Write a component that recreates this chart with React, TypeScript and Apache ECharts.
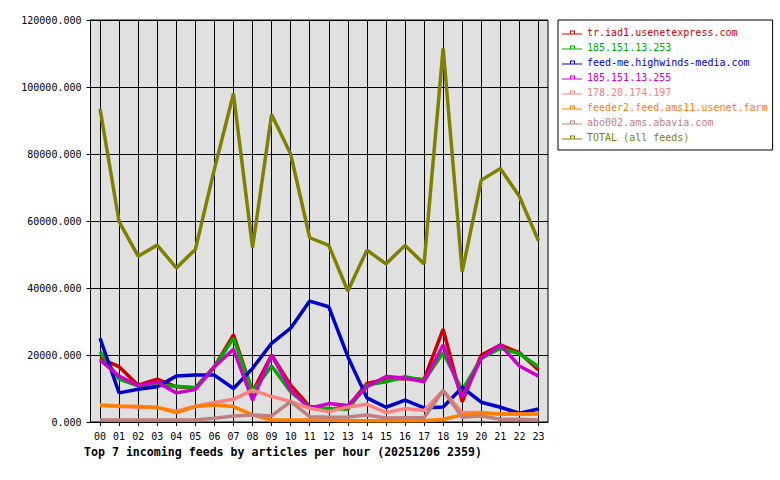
import React, { useEffect, useRef } from "react";
import * as echarts from "echarts";

const hours = [
  "00", "01", "02", "03", "04", "05", "06", "07", "08", "09", "10", "11",
  "12", "13", "14", "15", "16", "17", "18", "19", "20", "21", "22", "23",
];

const feedNames = [
  "tr.iad1.usenetexpress.com",
  "185.151.13.253",
  "feed-me.highwinds-media.com",
  "185.151.13.255",
  "178.20.174.197",
  "feeder2.feed.ams11.usenet.farm",
  "abo002.ams.abavia.com",
  "TOTAL (all feeds)",
];

const feedColors = [
  "#cc0000",
  "#00aa00",
  "#0000cc",
  "#cc00cc",
  "#ff8080",
  "#ff8000",
  "#c08080",
  "#808000",
];

const usenetexpress = [19000, 16500, 11000, 12800, 10500, 10200, 16500, 26000, 9000, 20000, 11000, 4600, 3800, 4500, 11500, 12800, 13000, 12700, 27700, 6000, 20000, 23000, 20700, 15500];
const ip253 = [21000, 12800, 10800, 11000, 10700, 10200, 16500, 25000, 9000, 16700, 9000, 4400, 4000, 3800, 11000, 12000, 13500, 12400, 20700, 9500, 19000, 22000, 20400, 16500];
const highwinds = [25000, 8700, 9800, 10500, 13700, 14000, 14000, 10000, 16000, 23500, 28000, 36100, 34400, 19500, 7200, 4400, 6500, 4200, 4500, 10300, 5900, 4400, 2600, 3900];
const ip255 = [18500, 13700, 10900, 11900, 8700, 9700, 16500, 21700, 6500, 20000, 9500, 4100, 5500, 4900, 10500, 13600, 13100, 12000, 23000, 7500, 19000, 23000, 16700, 13700];
const ip197 = [4900, 4600, 4400, 4300, 3200, 4700, 5800, 6800, 9500, 7600, 6100, 4100, 3100, 4500, 5300, 2800, 4000, 3400, 9400, 2800, 2800, 2400, 2400, 2400];
const ams11 = [5100, 4800, 4600, 4400, 2800, 4600, 5100, 4600, 2100, 600, 600, 600, 500, 400, 400, 400, 400, 400, 800, 2100, 2600, 2400, 2400, 2400];
const abavia = [600, 600, 600, 600, 600, 600, 1100, 1800, 2100, 1800, 6100, 1600, 1400, 1500, 2100, 1200, 1300, 1300, 9400, 1400, 1800, 800, 800, 600];
const totalAll = [93500, 59800, 49500, 52800, 46000, 51500, 75500, 98000, 52100, 91800, 80000, 55000, 52700, 39100, 51300, 47200, 52700, 47200, 111500, 44900, 72200, 75700, 67300, 54100];

const feedValues = [usenetexpress, ip253, highwinds, ip255, ip197, ams11, abavia, totalAll];

const yTicks = [0, 20000, 40000, 60000, 80000, 100000, 120000];

const titleText = "Top 7 incoming feeds by articles per hour (20251206 2359)";

const MONO = '"DejaVu Sans Mono", "Liberation Mono", monospace';

// legend glyph: a thin line with a small hollow square sitting on it
const legendIcon = "path://M0,3H20V4H0Z M8,0H13V4H8Z M9,1V3H12V1Z";

export default function App() {
  const ref = useRef<HTMLDivElement>(null);

  useEffect(() => {
    if (!ref.current) return;
    const chart = echarts.init(ref.current, null, { renderer: "svg" });
    chart.setOption({
      animation: false,
      backgroundColor: "#ffffff",
      textStyle: { fontFamily: MONO },
      title: {
        text: titleText,
        left: 79,
        top: 441,
        textStyle: {
          fontFamily: MONO,
          fontSize: 11.6,
          fontWeight: "bold",
          color: "#000000",
        },
      },
      legend: {
        orient: "vertical",
        left: 558,
        top: 20,
        padding: [5, 5, 5, 4],
        borderColor: "#000000",
        borderWidth: 1,
        backgroundColor: "#ffffff",
        itemWidth: 20,
        itemHeight: 4,
        itemGap: 0,
        icon: legendIcon,
        textStyle: { fontFamily: MONO, fontSize: 10, lineHeight: 15 },
        data: feedNames.map((name, i) => ({
          name,
          textStyle: { color: feedColors[i] },
        })),
      },
      grid: {
        left: 90.5,
        right: 232,
        top: 20,
        bottom: 58,
        show: true,
        backgroundColor: "#e0e0e0",
        borderColor: "#000000",
        borderWidth: 1,
      },
      xAxis: {
        type: "category",
        data: hours,
        boundaryGap: true,
        axisLine: { lineStyle: { color: "#000000", width: 1 } },
        axisTick: { show: true, alignWithLabel: true, length: 4, lineStyle: { color: "#000000" } },
        axisLabel: { color: "#000000", fontFamily: MONO, fontSize: 10, margin: 9, interval: 0 },
        splitLine: { show: true, alignWithLabel: true, lineStyle: { color: "#000000", width: 1 } },
      },
      yAxis: {
        type: "value",
        min: yTicks[0],
        max: yTicks[yTicks.length - 1],
        interval: yTicks[1] - yTicks[0],
        axisLine: { show: true, lineStyle: { color: "#000000", width: 1 } },
        axisTick: { show: true, length: 4, lineStyle: { color: "#000000" } },
        axisLabel: {
          color: "#000000",
          fontFamily: MONO,
          fontSize: 10,
          margin: 9,
          formatter: (v: number) => v.toFixed(3),
        },
        splitLine: { show: true, lineStyle: { color: "#000000", width: 1 } },
      },
      series: feedNames.map((name, i) => ({
        name,
        type: "line",
        data: feedValues[i],
        showSymbol: false,
        symbol: "none",
        color: feedColors[i],
        lineStyle: { color: feedColors[i], width: 3.5 },
        emphasis: { disabled: true },
      })),
    });
    return () => chart.dispose();
  }, []);

  return (
    <div
      ref={ref}
      style={{ position: "fixed", left: 0, top: 0, width: 780, height: 480, background: "#ffffff" }}
    />
  );
}
